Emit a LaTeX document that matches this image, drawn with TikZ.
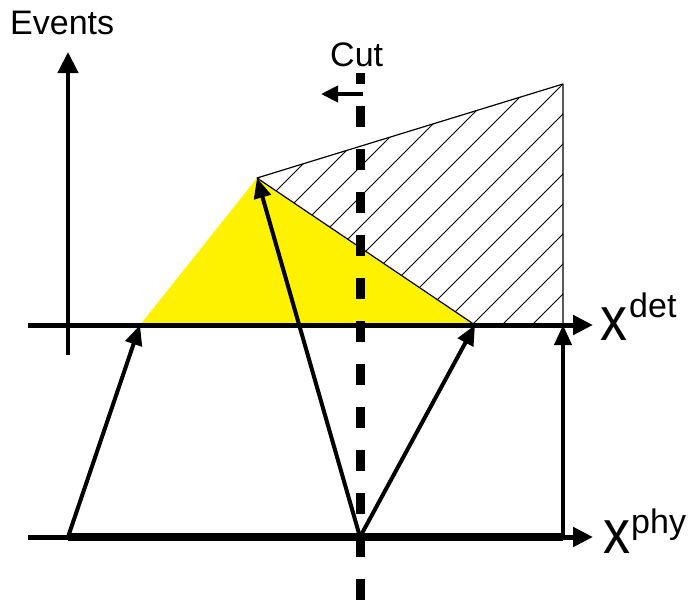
\documentclass[tikz,border=0pt]{standalone}
\usepackage{fontspec}
\setmainfont{Liberation Sans}
\usetikzlibrary{arrows.meta}
\begin{document}
\begin{tikzpicture}[x={(1pt,0)},y={(0,-1pt)},
  lbl/.style={inner sep=0pt,anchor=base west,font=\fontsize{34}{40}\selectfont},
  bigx/.style={inner sep=0pt,anchor=base west,font=\fontsize{62}{70}\selectfont},
  axisline/.style={line width=5pt,-{Triangle[length=20pt,width=19pt]}},
  maparrow/.style={line width=4pt,-{Triangle[length=20pt,width=17pt]}},
  cutline/.style={line width=9pt,dash pattern=on 21pt off 22pt},
  hatchline/.style={line width=0.9pt}]
\useasboundingbox (0,0) rectangle (691,603);
% key points
\coordinate (L) at (140,325);
\coordinate (A) at (257,178);
\coordinate (R) at (475,325);
\coordinate (T) at (563,84);
\coordinate (B) at (563,325);
\coordinate (P0) at (68,537);
\coordinate (P1) at (360,537);
\coordinate (P2) at (563,537);
% yellow triangle
\fill[yellow] (L) -- (A) -- (R) -- cycle;
% hatched region
\begin{scope}
\clip (A) -- (T) -- (B) -- (R) -- cycle;
\foreach \c in {437,467,...,857}{
  \draw[hatchline] (150,\c-150) -- (650,\c-650);
}
\end{scope}
\draw[line width=1.2pt,line join=round] (A) -- (T) -- (B) -- (R) -- cycle;
% axes
\coordinate (ev0) at (68,355);
\coordinate (ev1) at (68,52);
\draw[line width=4.5pt,-{Triangle[length=21pt,width=20pt]}] (ev0) -- (ev1);
\coordinate (xd0) at (28,325);
\coordinate (xd1) at (593,325);
\draw[axisline] (xd0) -- (xd1);
\coordinate (xp0) at (28,537);
\coordinate (xp1) at (593,537);
\draw[axisline] (xp0) -- (xp1);
\draw[line width=8pt] (P0) -- (P2);
% cut line
\coordinate (c0) at (360,600);
\coordinate (c1) at (360,73);
\draw[cutline] (c0) -- (c1);
\coordinate (ca0) at (363,94);
\coordinate (ca1) at (321,94);
\draw[line width=4pt,-{Triangle[length=17pt,width=16pt]}] (ca0) -- (ca1);
% mapping arrows
\draw[maparrow] (P0) -- (L);
\draw[maparrow] (P1) -- (A);
\draw[maparrow] (P1) -- (R);
\draw[maparrow] (P2) -- (B);
% labels
\node[lbl] (events) at (10,34) {Events};
\node[lbl] (cut) at (330,66) {Cut};
\node[bigx] (xdet) at (600,340) {\scalebox{0.87}[1]{x}};
\node[lbl] (det) at (629,317) {det};
\node[bigx] (xphy) at (603,553) {\scalebox{0.87}[1]{x}};
\node[lbl] (phy) at (631,533) {phy};
\end{tikzpicture}
\end{document}
